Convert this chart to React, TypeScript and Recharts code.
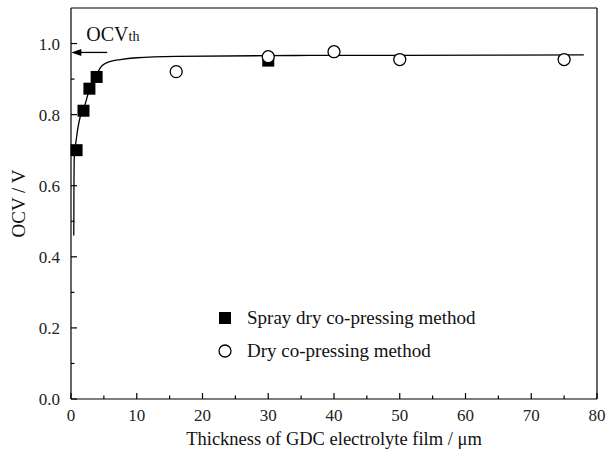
import {
  ComposedChart,
  Line,
  ReferenceLine,
  Scatter,
  XAxis,
  YAxis,
} from "recharts";

// fitted curve through the points
const fitX = [0.42, 0.45, 0.5, 0.8, 1.4, 1.9, 2.8, 3.9, 4.5, 5.2, 6, 7.5, 10, 16, 30, 50, 78];
const fitY = [0.46, 0.6, 0.68, 0.73, 0.794, 0.815, 0.87, 0.912, 0.933, 0.944, 0.95, 0.955, 0.96, 0.964, 0.966, 0.967, 0.968];

// spray dry co-pressing method (filled squares)
const sprayX = [0.85, 1.9, 2.8, 3.9, 30];
const sprayY = [0.7, 0.811, 0.873, 0.906, 0.952];

// dry co-pressing method (open circles)
const dryX = [16, 30, 40, 50, 75];
const dryY = [0.921, 0.963, 0.977, 0.955, 0.955];

const xTicks = [0, 5, 10, 15, 20, 25, 30, 35, 40, 45, 50, 55, 60, 65, 70, 75, 80];
const yTicks = [0, 0.1, 0.2, 0.3, 0.4, 0.5, 0.6, 0.7, 0.8, 0.9, 1.0];

const ocvTh = 0.975;

const fitData = fitX.map((x, i) => ({ x, y: fitY[i] }));
const sprayData = sprayX.map((x, i) => ({ x, y: sprayY[i] }));
const dryData = dryX.map((x, i) => ({ x, y: dryY[i] }));

const FONT = "Liberation Serif";
const X_MARGIN = 10;
const Y_MARGIN = 11;

const XTick = (props: any) => {
  const { x, y, payload } = props;
  const v = payload.value;
  const major = v % 10 === 0;
  const axisY = y - X_MARGIN;
  return (
    <g>
      <line x1={x} x2={x} y1={axisY} y2={axisY - (major ? 6 : 3.5)} stroke="#000" strokeWidth={1.2} />
      {major && (
        <text x={x} y={y} dy="0.71em" textAnchor="middle" fontSize={17} fontFamily={FONT} style={{ fontFamily: FONT }} fill="#222">
          {v}
        </text>
      )}
    </g>
  );
};

const YTick = (props: any) => {
  const { x, y, payload, index } = props;
  const major = index % 2 === 0;
  const axisX = x + Y_MARGIN;
  return (
    <g>
      <line x1={axisX} x2={axisX + (major ? 6 : 3.5)} y1={y} y2={y} stroke="#000" strokeWidth={1.2} />
      {major && (
        <text x={x} y={y} dy="0.36em" textAnchor="end" fontSize={17} fontFamily={FONT} style={{ fontFamily: FONT }} fill="#222">
          {payload.value.toFixed(1)}
        </text>
      )}
    </g>
  );
};

const Square = (props: any) => {
  const { cx, cy } = props;
  return <rect x={cx - 6} y={cy - 6} width={12} height={12} fill="#000" />;
};

const Circle = (props: any) => {
  const { cx, cy } = props;
  return <circle cx={cx} cy={cy} r={6} fill="#fff" stroke="#000" strokeWidth={1.3} />;
};

const OcvArrow = (props: any) => {
  const { x1, y1, x2 } = props;
  const left = Math.min(x1, x2);
  const right = Math.max(x1, x2);
  return (
    <g>
      <line x1={left + 8} x2={right} y1={y1} y2={y1} stroke="#000" strokeWidth={1.3} />
      <polygon points={`${left},${y1} ${left + 10},${y1 - 3.5} ${left + 10},${y1 + 3.5}`} fill="#000" />
      <text x={left + 15} y={y1 - 11} fontFamily={FONT} style={{ fontFamily: FONT }} fill="#111">
        <tspan fontSize={20}>OCV</tspan>
        <tspan fontSize={14}>th</tspan>
      </text>
    </g>
  );
};

const YLabel = (props: any) => {
  const { viewBox } = props;
  const cx = 18;
  const cy = viewBox.y + viewBox.height / 2;
  return (
    <text
      x={cx}
      y={cy}
      transform={`rotate(-90, ${cx}, ${cy})`}
      textAnchor="middle"
      dominantBaseline="central"
      fontSize={19}
      fontFamily={FONT}
      style={{ fontFamily: FONT }}
      fill="#111"
    >
      OCV / V
    </text>
  );
};

export default function App() {
  return (
    <div style={{ position: "absolute", left: 0, top: 0, width: 608, height: 453, background: "#fff" }}>
      <ComposedChart
        width={608}
        height={453}
        margin={{ top: 8, right: 11, bottom: 0, left: 0 }}
      >
        <XAxis
          type="number"
          dataKey="x"
          domain={[0, 80]}
          ticks={xTicks}
          interval={0}
          height={54}
          tickSize={0}
          tickMargin={X_MARGIN}
          tick={<XTick />}
          axisLine={{ stroke: "#000", strokeWidth: 1.2 }}
          label={{
            value: "Thickness of GDC electrolyte film / \u03bcm",
            position: "insideBottom",
            offset: 8,
            fontSize: 18.5,
            style: { fontFamily: FONT },
            fill: "#111",
          }}
        />
        <YAxis
          type="number"
          dataKey="y"
          domain={[0, 1.1]}
          ticks={yTicks}
          interval={0}
          width={71}
          tickSize={0}
          tickMargin={Y_MARGIN}
          tick={<YTick />}
          axisLine={{ stroke: "#000", strokeWidth: 1.2 }}
          label={<YLabel />}
        />
        <ReferenceLine y={1.1} stroke="#000" strokeWidth={1.2} />
        <ReferenceLine x={80} stroke="#000" strokeWidth={1.2} />
        <ReferenceLine
          segment={[
            { x: 5.5, y: ocvTh },
            { x: 0.05, y: ocvTh },
          ]}
          shape={<OcvArrow />}
        />
        <Line
          data={fitData}
          dataKey="y"
          type="monotone"
          stroke="#000"
          strokeWidth={1.3}
          dot={false}
          activeDot={false}
          isAnimationActive={false}
        />
        <Scatter data={sprayData} dataKey="y" shape={<Square />} isAnimationActive={false} />
        <Scatter data={dryData} dataKey="y" shape={<Circle />} isAnimationActive={false} />
      </ComposedChart>
      <div
        style={{
          position: "absolute",
          left: 218,
          top: 302,
          fontFamily: FONT,
          fontSize: 19,
          color: "#111",
          lineHeight: "32.5px",
        }}
      >
        <div style={{ display: "flex", alignItems: "center" }}>
          <svg width={29} height={14}>
            <rect x={1} y={1} width={12} height={12} fill="#000" />
          </svg>
          <span>Spray dry co-pressing method</span>
        </div>
        <div style={{ display: "flex", alignItems: "center" }}>
          <svg width={29} height={14}>
            <circle cx={7} cy={7} r={6} fill="#fff" stroke="#000" strokeWidth={1.3} />
          </svg>
          <span>Dry co-pressing method</span>
        </div>
      </div>
    </div>
  );
}
